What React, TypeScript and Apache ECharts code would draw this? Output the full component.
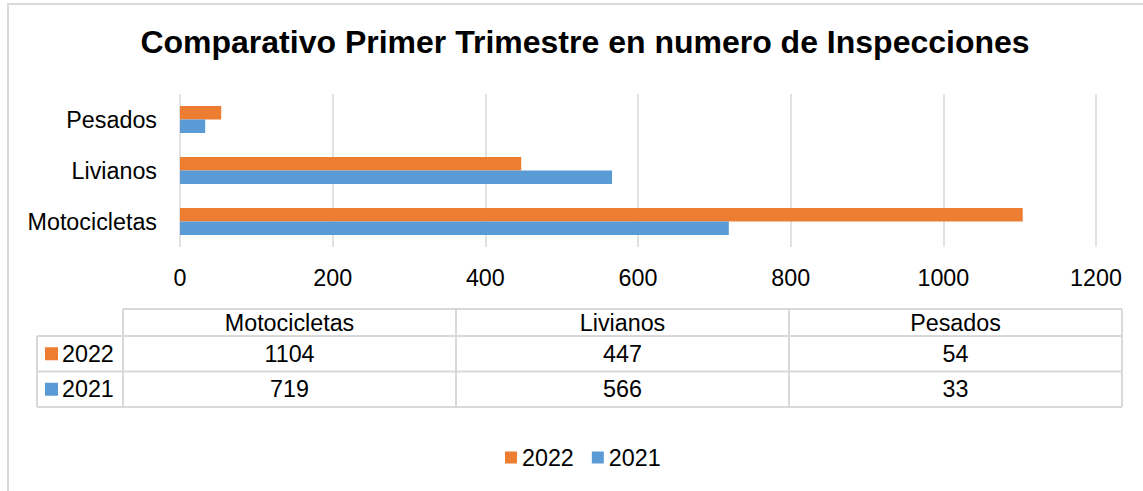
import React, { useEffect, useRef } from 'react';
import * as echarts from 'echarts';

const title = 'Comparativo Primer Trimestre en numero de Inspecciones';
const categories = ['Motocicletas', 'Livianos', 'Pesados'];
const seriesNames = ['2022', '2021'];
const values2022 = [1104, 447, 54];
const values2021 = [719, 566, 33];
const seriesValues = [values2022, values2021];
const axisMin = 0;
const axisMax = 1200;
const axisStep = 200;
const colors = ['#ED7D31', '#5B9BD5'];

const FONT = '"Liberation Sans", Arial, sans-serif';
const FS = 23.3;
const GRID_COLOR = '#d9d9d9';

function buildTable(): any[] {
  const els: any[] = [];
  const colX = [123, 456, 789, 1122];
  const legendX = 37;
  const rowY = [309, 336, 371.5, 407];
  const lineStyle = { stroke: GRID_COLOR, lineWidth: 2 };
  els.push({ type: 'line', shape: { x1: colX[0], y1: rowY[0], x2: colX[3], y2: rowY[0] }, style: lineStyle, silent: true });
  for (let i = 1; i < rowY.length; i++) {
    els.push({ type: 'line', shape: { x1: legendX, y1: rowY[i], x2: colX[3], y2: rowY[i] }, style: lineStyle, silent: true });
  }
  els.push({ type: 'line', shape: { x1: legendX, y1: rowY[1], x2: legendX, y2: rowY[3] }, style: lineStyle, silent: true });
  colX.forEach((x) => {
    els.push({ type: 'line', shape: { x1: x, y1: rowY[0], x2: x, y2: rowY[3] }, style: lineStyle, silent: true });
  });
  categories.forEach((c, i) => {
    els.push({
      type: 'text',
      x: (colX[i] + colX[i + 1]) / 2,
      y: (rowY[0] + rowY[1]) / 2,
      style: { text: c, font: `${FS}px ${FONT}`, fill: '#000', align: 'center', verticalAlign: 'middle' },
      silent: true,
    });
  });
  seriesNames.forEach((name, r) => {
    const cy = (rowY[r + 1] + rowY[r + 2]) / 2;
    els.push({ type: 'rect', shape: { x: 45, y: cy - 6.5, width: 13, height: 13 }, style: { fill: colors[r] }, silent: true });
    els.push({
      type: 'text',
      x: 62,
      y: cy,
      style: { text: name, font: `${FS}px ${FONT}`, fill: '#000', align: 'left', verticalAlign: 'middle' },
      silent: true,
    });
    seriesValues[r].forEach((v, i) => {
      els.push({
        type: 'text',
        x: (colX[i] + colX[i + 1]) / 2,
        y: cy,
        style: { text: String(v), font: `${FS}px ${FONT}`, fill: '#000', align: 'center', verticalAlign: 'middle' },
        silent: true,
      });
    });
  });
  return els;
}

export default function App() {
  const ref = useRef<HTMLDivElement>(null);
  useEffect(() => {
    if (!ref.current) return;
    const chart = echarts.init(ref.current, null, { renderer: 'svg' });
    chart.setOption({
      animation: false,
      backgroundColor: '#fff',
      textStyle: { fontFamily: FONT },
      title: {
        text: title,
        left: 580,
        textAlign: 'center',
        top: 21,
        textStyle: { fontFamily: FONT, fontSize: 32, fontWeight: 'bold', color: '#000' },
      },
      legend: {
        data: seriesNames,
        left: 500,
        top: 441,
        icon: 'rect',
        itemWidth: 12,
        itemHeight: 12,
        itemGap: 18,
        textStyle: { fontFamily: FONT, fontSize: FS, color: '#000' },
      },
      grid: { left: 180, right: 47, top: 94, height: 153, containLabel: false },
      xAxis: {
        type: 'value',
        min: axisMin,
        max: axisMax,
        interval: axisStep,
        axisLine: { show: false },
        axisTick: { show: false },
        axisLabel: { fontFamily: FONT, fontSize: FS, color: '#000', margin: 19, formatter: (v: number) => String(v) },
        splitLine: { show: true, lineStyle: { color: GRID_COLOR, width: 1.5 } },
      },
      yAxis: {
        type: 'category',
        data: categories,
        axisLine: { show: false },
        axisTick: { show: false },
        axisLabel: { fontFamily: FONT, fontSize: FS, color: '#000', margin: 23 },
      },
      series: seriesNames.map((name, i) => ({
        name,
        type: 'bar',
        data: seriesValues[i],
        barWidth: 13.5,
        barGap: '0%',
        itemStyle: { color: colors[i] },
      })),
      graphic: [
        {
          type: 'rect',
          shape: { x: 8, y: 4, width: 1400, height: 800 },
          style: { fill: 'none', stroke: GRID_COLOR, lineWidth: 2 },
          silent: true,
          z: -1,
        },
        ...buildTable(),
      ],
    });
    return () => chart.dispose();
  }, []);
  return <div ref={ref} style={{ position: 'absolute', left: 0, top: 0, width: 1143, height: 491 }} />;
}
